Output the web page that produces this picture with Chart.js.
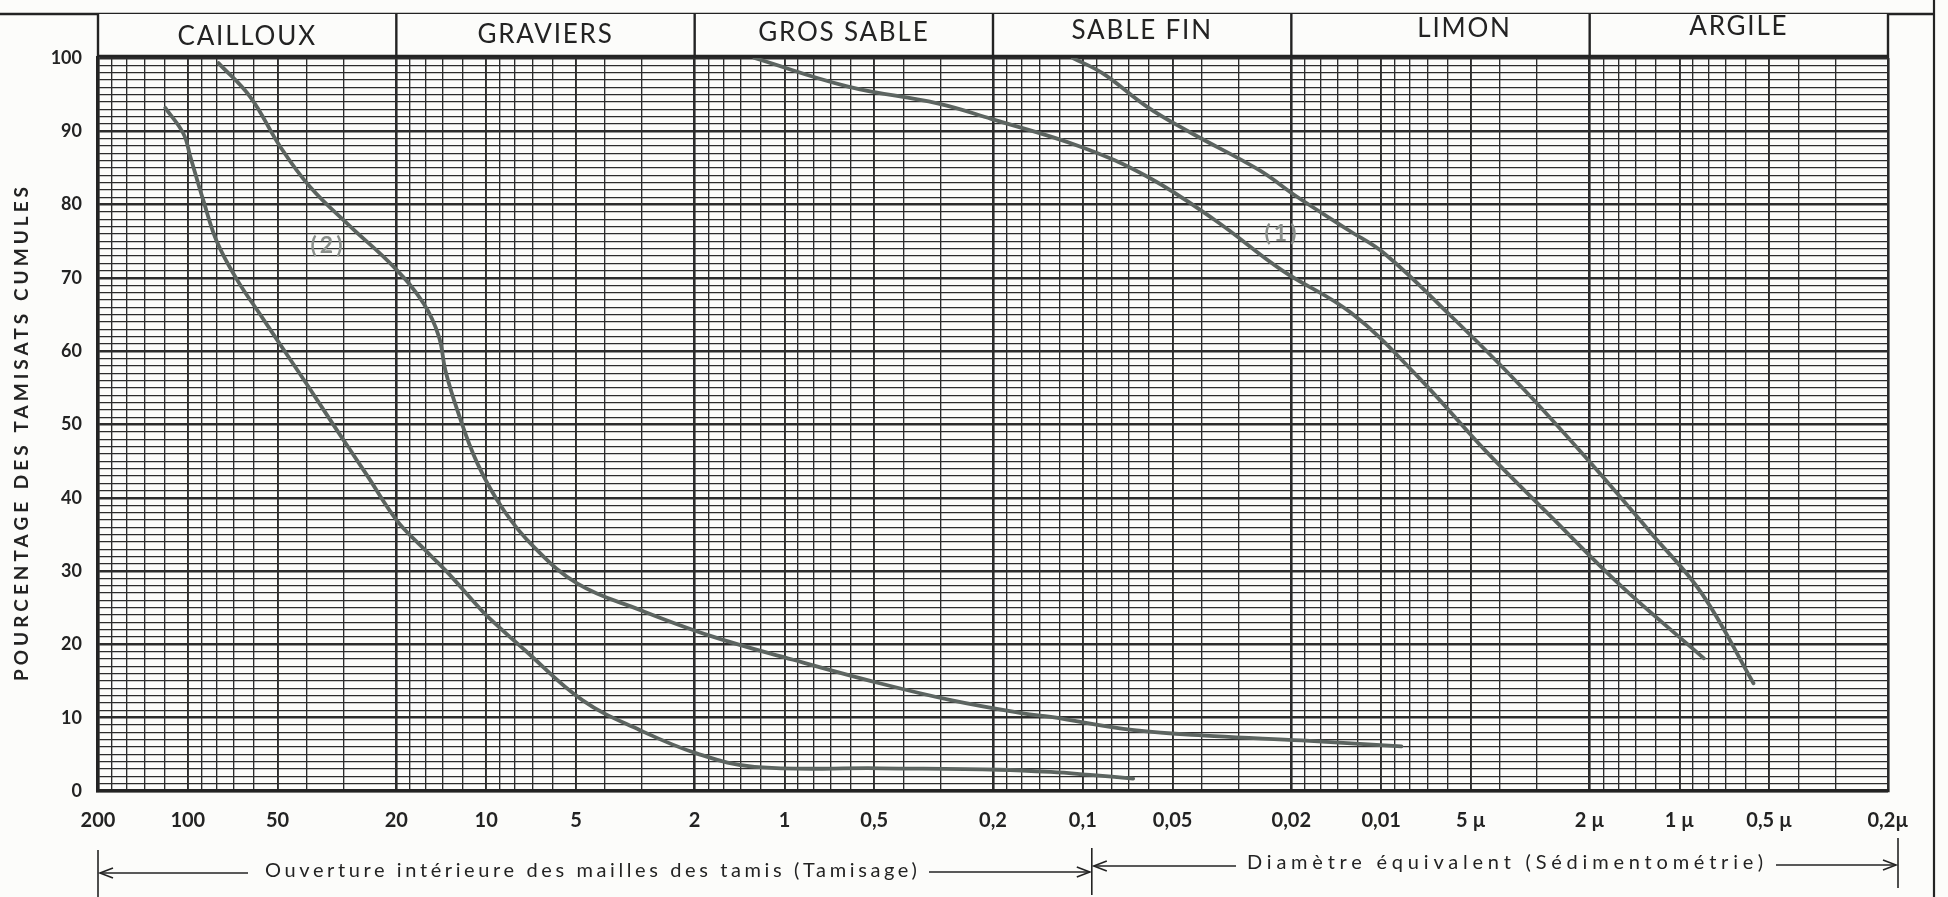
<!DOCTYPE html>
<html>
<head>
<meta charset="utf-8">
<script src="https://cdn.jsdelivr.net/npm/chart.js@4.4.1/dist/chart.umd.min.js"></script>
<style>
html,body{margin:0;padding:0;background:#fcfcfa;}
canvas{display:block;}
</style>
</head>
<body>
<canvas id="c" width="1948" height="897"></canvas>
<script>
// ---- Data (x = diamètre en mm, y = % tamisats cumulés) ----
const courbe2aX = [119, 103.5, 98, 88.6, 80, 68.5, 57.2, 47.7, 38.9, 31.6, 25.1, 20, 16.6, 13.6, 11.1, 10, 7.41, 4.76, 3.05, 1.96, 1.26, 0.48, 0.191, 0.128, 0.0945, 0.0678];
const courbe2aY = [93.2, 89.7, 86.5, 80.5, 75, 69.8, 65, 60.2, 54.8, 49.2, 43.1, 37, 33.5, 30, 26, 24, 19.2, 12.4, 8.3, 5.1, 3.3, 3.1, 2.9, 2.6, 2.2, 1.7];

const courbe2bX = [78.9, 61.8, 49, 38.9, 28.5, 20.4, 16.2, 14.4, 13.7, 12.5, 10.7, 8.73, 6.92, 4.94, 3.05, 1.75, 0.935, 0.48, 0.277, 0.159, 0.128, 0.0673, 0.0363, 0.0185, 0.00855];
const courbe2bY = [99.3, 94.7, 87.9, 82.4, 77, 71.5, 66.5, 62, 57.4, 52, 44.7, 38.3, 33.3, 28.3, 24.7, 21.1, 17.9, 14.7, 12.4, 10.6, 10.1, 8.3, 7.5, 6.9, 6.1];

const courbe1aX = [1.26, 0.612, 0.307, 0.203, 0.1017, 0.0607, 0.0361, 0.0216, 0.01259, 0.00752, 0.00449, 0.00269, 0.0016, 0.000828];
const courbe1aY = [100, 96.1, 93.8, 91.7, 87.9, 83.8, 77.9, 71.1, 65.2, 56.5, 46.5, 37.4, 28.3, 18.1];

const courbe1bX = [0.108, 0.0857, 0.0607, 0.043, 0.0256, 0.0192, 0.01285, 0.00973, 0.0058, 0.00347, 0.00207, 0.00124, 0.00084, 0.000565];
const courbe1bY = [100, 97.9, 93.3, 89.7, 84.7, 81.1, 76.5, 73.3, 64.7, 55.6, 45.6, 35.1, 26.9, 14.7];

// ---- Tick labels ----
const xTickValues = [200, 100, 50, 20, 10, 5, 2, 1, 0.5, 0.2, 0.1, 0.05, 0.02, 0.01, 0.005, 0.002, 0.001, 0.0005, 0.0002];
const xTickLabels = ["200", "100", "50", "20", "10", "5", "2", "1", "0,5", "0,2", "0,1", "0,05", "0,02", "0,01", "5 µ", "2 µ", "1 µ", "0,5 µ", "0,2µ"];
const gridMultipliers = [2, 3, 4, 5, 6, 7, 8, 9, 10, 12, 14, 16, 18];
const gridDecades = [-4, -3, -2, -1, 0, 1];

// ---- Header categories ----
const classes = ["CAILLOUX", "GRAVIERS", "GROS SABLE", "SABLE FIN", "LIMON", "ARGILE"];
const classBounds = [200, 20, 2, 0.2, 0.02, 0.002, 0.0002];

const yTitle = "POURCENTAGE DES TAMISATS CUMULES";
const bottomLeftText = "Ouverture intérieure des mailles des tamis (Tamisage)";
const bottomRightText = "Diamètre équivalent (Sédimentométrie)";

const gridX = [];
gridDecades.forEach(k => gridMultipliers.forEach(m => gridX.push(m * Math.pow(10, k))));
gridX.push(200);

function sameLog(a, b) { return Math.abs(Math.log10(a) - Math.log10(b)) < 1e-6; }
function isMajor(v) { return classBounds.some(b => sameLog(b, v)); }
function isLabelled(v) { return xTickValues.some(b => sameLog(b, v)); }

const toPts = (xs, ys) => xs.map((x, i) => ({x: x, y: ys[i]}));
const curveColor = '#5c6460';
const ds = (label, xs, ys) => ({
  label: label, data: toPts(xs, ys), borderColor: curveColor, borderWidth: 3.8,
  pointRadius: 0, fill: false, tension: 0.4, borderCapStyle: 'round', borderJoinStyle: 'round'
});

const BG = '#fcfcfa';
const INK = '#232323';

function fitSpacing(ctx, text, width) {
  if (!('letterSpacing' in ctx)) return;
  ctx.letterSpacing = '0px';
  const w = ctx.measureText(text).width;
  const ls = (width - w) / Math.max(1, text.length - 1);
  ctx.letterSpacing = ls.toFixed(2) + 'px';
}
function arrowHead(ctx, x, y, dir) {
  ctx.beginPath();
  ctx.moveTo(x - dir * 13, y - 5);
  ctx.lineTo(x, y);
  ctx.lineTo(x - dir * 13, y + 5);
  ctx.stroke();
}

const decor = {
  id: 'decor',
  beforeDraw(chart) {
    const ctx = chart.ctx;
    ctx.save();
    ctx.fillStyle = BG;
    ctx.fillRect(0, 0, chart.width, chart.height);
    ctx.restore();
  },
  afterDraw(chart) {
    const ctx = chart.ctx, a = chart.chartArea, x = chart.scales.x;
    ctx.save();
    ctx.strokeStyle = INK;
    ctx.fillStyle = INK;

    // top rule & right frame
    ctx.lineWidth = 2.6;
    ctx.beginPath(); ctx.moveTo(0, 14); ctx.lineTo(1934, 14); ctx.stroke();
    ctx.lineWidth = 2.2;
    ctx.beginPath(); ctx.moveTo(1934, 0); ctx.lineTo(1934, 897); ctx.stroke();

    // header cells
    const hTop = 14, hBot = a.top - 2;
    ctx.fillStyle = BG;
    ctx.fillRect(a.left, hTop, a.right - a.left, hBot - hTop);
    ctx.lineWidth = 2.4;
    ctx.beginPath(); ctx.moveTo(a.left, hBot); ctx.lineTo(a.right, hBot); ctx.stroke();
    classBounds.forEach(b => {
      const px = x.getPixelForValue(b);
      ctx.beginPath(); ctx.moveTo(px, hTop); ctx.lineTo(px, a.top); ctx.stroke();
    });
    ctx.fillStyle = INK;
    ctx.font = '400 26px Lato';
    ctx.textAlign = 'center';
    ctx.textBaseline = 'middle';
    classes.forEach((name, i) => {
      const x0 = x.getPixelForValue(classBounds[i]);
      const x1 = x.getPixelForValue(classBounds[i + 1]);
      if ('letterSpacing' in ctx) ctx.letterSpacing = '1.8px';
      const off = name === 'LIMON' ? 24 : 0;
      ctx.fillText(name, (x0 + x1) / 2 + off, 37 - i * 2);
    });

    // y-axis title
    ctx.save();
    ctx.translate(22, 432);
    ctx.rotate(-Math.PI / 2);
    ctx.font = '700 19px Lato';
    fitSpacing(ctx, yTitle, 494);
    ctx.fillText(yTitle, 0, 0);
    ctx.restore();

    // curve labels
    ctx.fillStyle = '#8a8f8b';
    ctx.font = '700 23px Lato';
    if ('letterSpacing' in ctx) ctx.letterSpacing = '3px';
    ctx.fillText('(2)', 328, 246);
    ctx.fillText('(1)', 1282, 234);

    // bottom annotations
    ctx.fillStyle = INK;
    ctx.strokeStyle = INK;
    ctx.lineWidth = 1.6;
    const yl = 873, yr = 865;
    const xa = a.left, xm = x.getPixelForValue(0.1) + 9, xb = x.getPixelForValue(0.0002) + 10;
    ctx.beginPath(); ctx.moveTo(xa, 850); ctx.lineTo(xa, 897); ctx.stroke();
    ctx.beginPath(); ctx.moveTo(xm, 848); ctx.lineTo(xm, 895); ctx.stroke();
    ctx.beginPath(); ctx.moveTo(xb, 838); ctx.lineTo(xb, 888); ctx.stroke();
    ctx.beginPath(); ctx.moveTo(xa + 2, yl); ctx.lineTo(248, yl); ctx.stroke();
    arrowHead(ctx, xa + 2, yl, -1);
    ctx.beginPath(); ctx.moveTo(929, yl - 1); ctx.lineTo(xm - 2, yl - 1); ctx.stroke();
    arrowHead(ctx, xm - 2, yl - 1, 1);
    ctx.beginPath(); ctx.moveTo(xm + 2, yr + 1); ctx.lineTo(1236, yr + 1); ctx.stroke();
    arrowHead(ctx, xm + 2, yr + 1, -1);
    ctx.beginPath(); ctx.moveTo(1776, yr); ctx.lineTo(xb - 2, yr); ctx.stroke();
    arrowHead(ctx, xb - 2, yr, 1);
    ctx.font = '400 20px Lato';
    ctx.textAlign = 'left';
    ctx.textBaseline = 'middle';
    fitSpacing(ctx, bottomLeftText, 652);
    ctx.fillText(bottomLeftText, 265, yl - 2);
    fitSpacing(ctx, bottomRightText, 516);
    ctx.fillText(bottomRightText, 1247, yr - 2);

    ctx.restore();
  }
};

new Chart(document.getElementById('c'), {
  type: 'line',
  data: {
    datasets: [
      ds('(2)', courbe2aX, courbe2aY),
      ds('(2)', courbe2bX, courbe2bY),
      ds('(1)', courbe1aX, courbe1aY),
      ds('(1)', courbe1bX, courbe1bY)
    ]
  },
  options: {
    responsive: false,
    animation: false,
    layout: {padding: {top: 58, right: 60, left: 0, bottom: 0}},
    plugins: {legend: {display: false}, tooltip: {enabled: false}},
    scales: {
      x: {
        type: 'logarithmic',
        reverse: true,
        min: 0.0002,
        max: 200,
        afterBuildTicks: s => { s.ticks = gridX.slice().sort((p, q) => q - p).map(v => ({value: v})); },
        afterFit: s => { s.height = 106; },
        border: {display: true, color: INK, width: 3.2},
        grid: {
          drawTicks: false,
          color: '#2c2c2c',
          lineWidth: c => {
            const v = c.tick ? c.tick.value : 1;
            if (isMajor(v)) return 2.6;
            if (isLabelled(v)) return 1.9;
            return 1.35;
          }
        },
        ticks: {
          autoSkip: false, maxRotation: 0, minRotation: 0, padding: 18,
          color: INK, font: {family: 'Lato', size: 20, weight: '700'},
          callback: v => {
            const i = xTickValues.findIndex(t => sameLog(t, v));
            return i >= 0 ? xTickLabels[i] : '';
          }
        }
      },
      y: {
        type: 'linear',
        min: 0,
        max: 100,
        afterFit: s => { s.width = 98; },
        border: {display: true, color: INK, width: 3.2},
        grid: {
          drawTicks: false,
          color: '#2c2c2c',
          lineWidth: c => (c.tick && c.tick.value % 10 === 0) ? 2.5 : 1.2
        },
        ticks: {
          stepSize: 1, autoSkip: false, padding: 16,
          color: INK, font: {family: 'Lato', size: 18, weight: '700'},
          callback: v => (v % 10 === 0 ? String(v) : '')
        }
      }
    }
  },
  plugins: [decor]
});
</script>
</body>
</html>
